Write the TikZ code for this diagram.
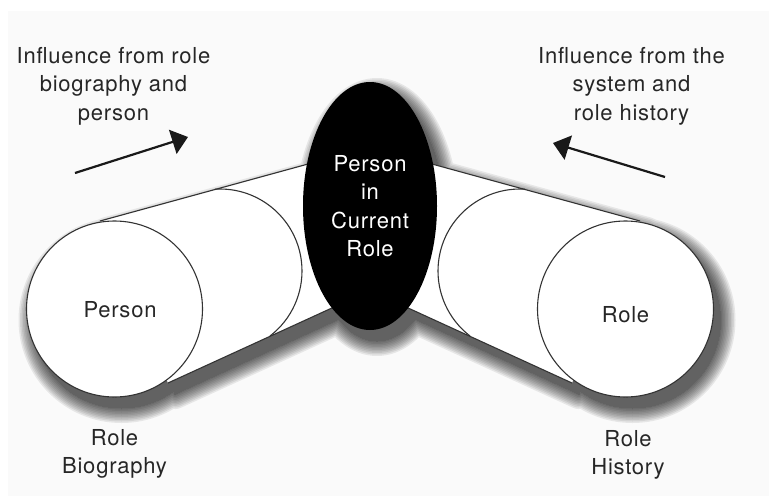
\documentclass[tikz,border=0pt]{standalone}
\usepackage{fontspec}
\setmainfont{TeX Gyre Heros}[LetterSpace=3.5]
\usetikzlibrary{shapes.geometric,arrows.meta}

% silhouette of both cylinders and the central disc, used for the soft shadow
\newcommand\castoutline{%
  \filldraw (114.5,309) circle[radius=88];
  \filldraw (625.5,309) circle[radius=88];
  \filldraw (100,221) -- (330,158) -- (345,302) -- (168,383) -- cycle;
  \filldraw (640,221) -- (410,158) -- (395,302) -- (572,383) -- cycle;
  \filldraw (370,206) ellipse[x radius=67, y radius=124];
}

\begin{document}
\begin{tikzpicture}[x=1pt,y=-1pt,
  every node/.style={font=\fontsize{22}{28.5}\selectfont, text=black!85, inner sep=0pt},
  outline/.style={draw=black!80, line width=1.1pt},
  face/.style={outline, fill=white},
  textblock/.style={align=center},
  influence/.style={line width=2.2pt, draw=black!90, -{Triangle[length=16pt,width=25pt]}},
]
\useasboundingbox (0,0) rectangle (769,496);
\fill[white] (0,0) rectangle (769,496);
\fill[black!2] (8,11) rectangle (769,496);

% soft drop shadow built from stacked translucent layers
\foreach \w in {0,3,...,30}{
  \begin{scope}[transparency group, opacity=0.08]
    % keeps the group large enough for the wide strokes
    \path (-30,-30) rectangle (800,530);
    \begin{scope}[shift={(7,11)}, black, line width=\w pt, line join=round]
      \castoutline
    \end{scope}
  \end{scope}
}

% left cylinder (role biography)
\fill[white] (100,221) -- (330,158) -- (345,302) -- (168,383) -- cycle;
\draw[outline] (100,221) -- (330,158);
\draw[outline] (168,383) -- (345,302);
\draw[outline] ([shift={(-93.5:82)}]220,271) arc[start angle=-93.5, end angle=52.4, radius=82];
\filldraw[face] (114.5,309) circle[radius=88];

% right cylinder (role history)
\fill[white] (640,221) -- (410,158) -- (395,302) -- (572,383) -- cycle;
\draw[outline] (640,221) -- (410,158);
\draw[outline] (572,383) -- (395,302);
\draw[outline] ([shift={(273.5:82)}]520,271) arc[start angle=273.5, end angle=127.6, radius=82];
\filldraw[face] (625.5,309) circle[radius=88];

% central disc
\node[ellipse, fill=black, minimum width=134pt, minimum height=248pt,
      text=white, align=center] (core) at (370,206) {Person\\in\\Current\\Role};

% labels
\node[anchor=base] (personface) at (120,317) {Person};
\node[anchor=base] (roleface) at (625.5,322) {Role};
\node[textblock] (lefthead) at (113.5,86) {Influence from role\\biography and\\person};
\node[textblock] (righthead) at (631.5,86) {Influence from the\\system and\\role history};
\node[textblock] (biography) at (114.5,454) {Role\\Biography};
\node[textblock] (history) at (628,455) {Role\\History};

% influence arrows
\coordinate (leftfrom) at (75,173);
\coordinate (leftto) at (188,137);
\coordinate (rightfrom) at (665,177);
\coordinate (rightto) at (553,143);
\draw[influence] (leftfrom) -- (leftto);
\draw[influence] (rightfrom) -- (rightto);
\end{tikzpicture}
\end{document}
